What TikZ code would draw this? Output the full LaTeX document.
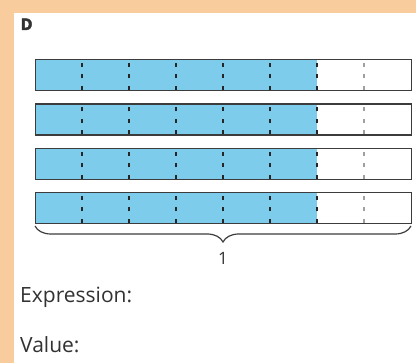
\documentclass[tikz,border=0pt]{standalone}
\usepackage{fontspec}
\setmainfont{Open Sans}
\newfontfamily\titlefont[FakeBold=2.5]{Open Sans}
\usetikzlibrary{decorations.pathreplacing}
\definecolor{bgorange}{RGB}{249,204,158}
\definecolor{barblue}{RGB}{125,204,235}
\definecolor{edge}{RGB}{60,60,60}
\definecolor{txt}{RGB}{50,50,50}
\tikzset{
  bar/.style={draw=edge, line width=1.3pt},
  divdark/.style={draw=black!85, line width=1.4pt, dash pattern=on 4pt off 7.5pt},
  divgray/.style={draw=gray!75, line width=1.4pt, dash pattern=on 4pt off 7.5pt},
  lbl/.style={inner sep=0pt, anchor=west, text=txt, font=\fontsize{21}{24}\selectfont}
}
\begin{document}
\begin{tikzpicture}[x=1pt,y=-1pt]
\fill[bgorange] (0,0) rectangle (416,363);
\fill[white] (14,13) rectangle (416,363);
\useasboundingbox (0,0) rectangle (416,363);
\node[inner sep=0pt, anchor=base west, font=\titlefont\bfseries\fontsize{16}{18}\selectfont, text=txt] (title) at (20.5,30) {D};
\foreach \i/\y in {1/59,2/103.5,3/148,4/192}{
  \fill[barblue] (36,\y) rectangle (317,\y+31);
  \foreach \k in {1,...,6}{
    \draw[divdark] (35+\k*47,\y+31) -- (35+\k*47,\y);
  }
  \draw[divgray] (364,\y+31) -- (364,\y);
  \node[bar, rectangle, minimum width=376pt, minimum height=31pt, inner sep=0pt, anchor=north west] (bar\i) at (35,\y) {};
}
\coordinate (bl) at (35,226);
\coordinate (br) at (411,226);
\draw[edge, line width=1.2pt, decorate, decoration={brace, mirror, amplitude=16pt}] (bl) -- (br);
\node[inner sep=0pt, text=txt, font=\fontsize{17}{19}\selectfont] (one) at (223,258) {1};
\node[lbl] (expr) at (20,297) {Expression:};
\node[lbl] (val) at (20,345) {Value:};
\end{tikzpicture}
\end{document}
